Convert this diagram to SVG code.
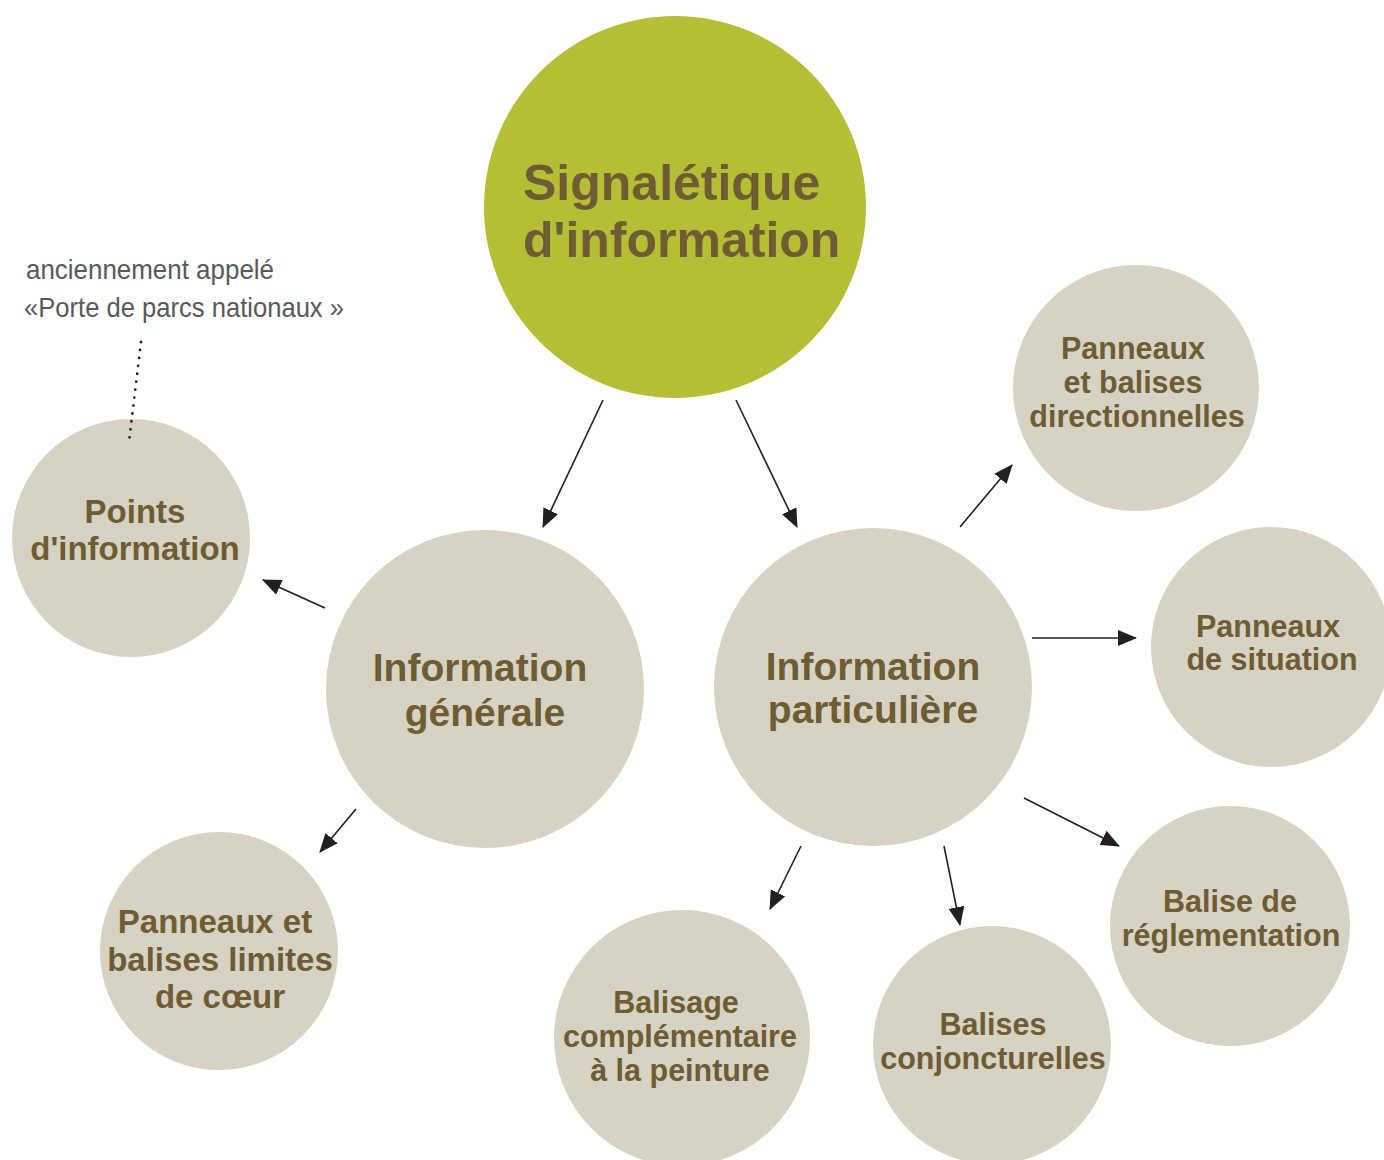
<svg xmlns="http://www.w3.org/2000/svg" width="1384" height="1160" viewBox="0 0 1384 1160">
<style>
.g{fill:#d6d3c4}
.m{fill:#b4bf35}
.t{font-family:"Liberation Sans",Arial,sans-serif;font-weight:bold;fill:#705c33;text-anchor:middle}
.c{stroke:#231f20;stroke-width:1.6;fill:none;marker-end:url(#ah)}
.a{font-family:"Liberation Sans",Arial,sans-serif;fill:#58595b;font-size:28px}
</style>
<defs>
<marker id="ah" markerWidth="20" markerHeight="16" refX="18" refY="8" orient="auto" markerUnits="userSpaceOnUse">
<path d="M0,0 L19,8 L0,16 Z" fill="#231f20"/>
</marker>
</defs>
<rect width="1384" height="1160" fill="#ffffff"/>

<g id="main">
<circle class="m" cx="675" cy="207" r="191"/>
<text class="t" style="font-size:50px;text-anchor:start"><tspan x="523" y="200">Signalétique</tspan><tspan x="523" y="257">d'information</tspan></text>
</g>

<g id="info-generale">
<circle class="g" cx="485" cy="689" r="159"/>
<text class="t" style="font-size:39px"><tspan x="480" y="681">Information</tspan><tspan x="485" y="726">générale</tspan></text>
</g>

<g id="info-particuliere">
<circle class="g" cx="873" cy="687" r="159"/>
<text class="t" style="font-size:39px"><tspan x="873" y="680">Information</tspan><tspan x="873" y="723">particulière</tspan></text>
</g>

<g id="points-information">
<circle class="g" cx="131" cy="538" r="119"/>
<text class="t" style="font-size:33px"><tspan x="135" y="523">Points</tspan><tspan x="135" y="560">d'information</tspan></text>
</g>

<g id="limites-coeur">
<circle class="g" cx="219" cy="951" r="119"/>
<text class="t" style="font-size:33px"><tspan x="215" y="933">Panneaux et</tspan><tspan x="220" y="971">balises limites</tspan><tspan x="220" y="1008">de cœur</tspan></text>
</g>

<g id="directionnelles">
<circle class="g" cx="1136" cy="388" r="123"/>
<text class="t" style="font-size:30.5px"><tspan x="1133" y="359">Panneaux</tspan><tspan x="1133" y="393">et balises</tspan><tspan x="1137" y="427">directionnelles</tspan></text>
</g>

<g id="situation">
<circle class="g" cx="1271" cy="647" r="120"/>
<text class="t" style="font-size:30.5px"><tspan x="1268" y="637">Panneaux</tspan><tspan x="1272" y="670">de situation</tspan></text>
</g>

<g id="reglementation">
<circle class="g" cx="1230" cy="926" r="120"/>
<text class="t" style="font-size:30.5px"><tspan x="1230" y="912">Balise de</tspan><tspan x="1231" y="946">réglementation</tspan></text>
</g>

<g id="conjoncturelles">
<circle class="g" cx="992" cy="1045" r="119"/>
<text class="t" style="font-size:30.5px"><tspan x="993" y="1035">Balises</tspan><tspan x="993" y="1069">conjoncturelles</tspan></text>
</g>

<g id="balisage">
<circle class="g" cx="682" cy="1038" r="128"/>
<text class="t" style="font-size:30.5px"><tspan x="676" y="1013">Balisage</tspan><tspan x="680" y="1047">complémentaire</tspan><tspan x="680" y="1081">à la peinture</tspan></text>
</g>

<g id="annotation">
<text class="a" x="26" y="279" textLength="248" lengthAdjust="spacingAndGlyphs">anciennement appelé</text>
<text class="a" x="24" y="317" textLength="320" lengthAdjust="spacingAndGlyphs">«Porte de parcs nationaux »</text>
<line x1="141" y1="342" x2="129" y2="442" stroke="#231f20" stroke-width="2.8" stroke-linecap="round" stroke-dasharray="0 8"/>
</g>

<g id="connectors">
<line class="c" x1="603" y1="400" x2="543" y2="527"/>
<line class="c" x1="736" y1="400" x2="797" y2="527"/>
<line class="c" x1="325" y1="608" x2="263" y2="580"/>
<line class="c" x1="356" y1="809" x2="320" y2="852"/>
<line class="c" x1="960" y1="527" x2="1012" y2="465"/>
<line class="c" x1="1032" y1="638" x2="1136" y2="638"/>
<line class="c" x1="1024" y1="798" x2="1119" y2="846"/>
<line class="c" x1="801" y1="846" x2="770" y2="909"/>
<line class="c" x1="944" y1="846" x2="960" y2="925"/>
</g>
</svg>
